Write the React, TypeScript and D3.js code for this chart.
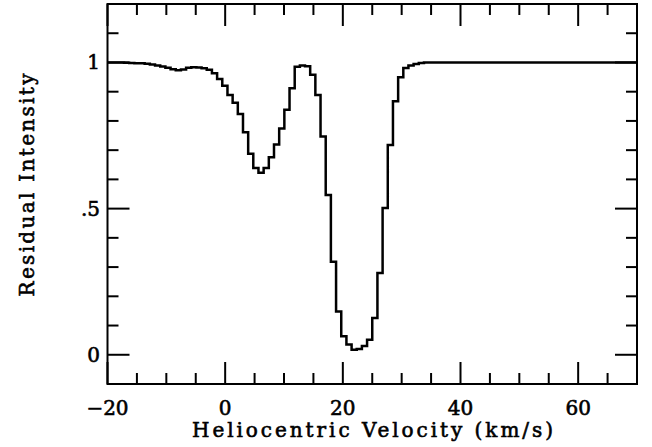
import React from 'react';
import * as d3 from 'd3';

const velocity = [
  -20.0, -17.19, -16.31, -15.43, -14.55, -13.68, -12.8, -11.92, -11.04, -10.16,
  -9.28, -8.4, -7.52, -6.64, -5.76, -4.89, -4.01, -3.13, -2.25, -1.37,
  -0.49, 0.39, 1.27, 2.15, 3.03, 3.91, 4.78, 5.66, 6.54, 7.42,
  8.3, 9.18, 10.06, 10.94, 11.82, 12.7, 13.57, 14.45, 15.33, 16.21,
  17.09, 17.97, 18.85, 19.73, 20.61, 21.49, 22.36, 23.24, 24.12, 25.0,
  25.88, 26.76, 27.64, 28.52, 29.4, 30.28, 31.15, 32.03, 32.91, 33.79, 70.0,
];
const intensity = [
  1.0, 0.999, 0.998, 0.997, 0.997, 0.996, 0.993, 0.99, 0.986, 0.982,
  0.977, 0.973, 0.976, 0.982, 0.984, 0.983, 0.98, 0.975, 0.963, 0.943,
  0.92, 0.889, 0.862, 0.824, 0.761, 0.688, 0.639, 0.623, 0.639, 0.676,
  0.719, 0.774, 0.838, 0.912, 0.985, 0.99, 0.987, 0.958, 0.889, 0.747,
  0.547, 0.318, 0.148, 0.063, 0.035, 0.017, 0.02, 0.03, 0.051, 0.126,
  0.28, 0.502, 0.718, 0.867, 0.949, 0.981, 0.99, 0.995, 0.998, 1.0, 1.0,
];

const xMajorTicks = [-20, 0, 20, 40, 60];
const xTickLabels = ['\u221220', '0', '20', '40', '60'];
const yMajorTicks = [0, 0.5, 1];
const yTickLabels = ['0', '.5', '1'];
const xTitle = 'Heliocentric Velocity (km/s)';
const yTitle = 'Residual Intensity';

const W = 652;
const H = 447;
const left = 107.5;
const right = 637;
const top = 4;
const bottom = 384;

export default function App() {
  const x = d3.scaleLinear().domain([-20, 70]).range([left, right]);
  const y = d3.scaleLinear().domain([-0.1, 1.2]).range([bottom, top]);

  const data = velocity.map((v, i) => [v, intensity[i]] as [number, number]);
  const line = d3
    .line<[number, number]>()
    .x((d) => x(d[0]))
    .y((d) => y(d[1]))
    .curve(d3.curveStepAfter);

  const xMinor = d3.range(-15, 70, 5).filter((v) => !xMajorTicks.includes(v));
  const yMinor = d3.range(0, 12, 1).map((v) => v / 10).filter((v) => !yMajorTicks.some((m) => Math.abs(m - v) < 1e-9));

  const majorLen = 22;
  const minorLen = 11;
  const font = '"DejaVu Serif", serif';

  return (
    <svg width={W} height={H} style={{ position: 'absolute', left: 0, top: 0, background: '#fff' }}>
      <defs>
        <clipPath id="plotclip">
          <rect x={left} y={top} width={right - left} height={bottom - top} />
        </clipPath>
      </defs>
      <g stroke="#000" strokeWidth={2} fill="none">
        {xMajorTicks.map((v) => (
          <g key={'xm' + v}>
            <line x1={x(v)} x2={x(v)} y1={bottom} y2={bottom - majorLen} />
            <line x1={x(v)} x2={x(v)} y1={top} y2={top + majorLen} />
          </g>
        ))}
        {xMinor.map((v) => (
          <g key={'xn' + v}>
            <line x1={x(v)} x2={x(v)} y1={bottom} y2={bottom - minorLen} />
            <line x1={x(v)} x2={x(v)} y1={top} y2={top + minorLen} />
          </g>
        ))}
        {yMajorTicks.map((v) => (
          <g key={'ym' + v}>
            <line x1={left} x2={left + majorLen} y1={y(v)} y2={y(v)} />
            <line x1={right} x2={right - majorLen} y1={y(v)} y2={y(v)} />
          </g>
        ))}
        {yMinor.map((v) => (
          <g key={'yn' + v}>
            <line x1={left} x2={left + minorLen} y1={y(v)} y2={y(v)} />
            <line x1={right} x2={right - minorLen} y1={y(v)} y2={y(v)} />
          </g>
        ))}
        <rect x={left} y={top} width={right - left} height={bottom - top} />
      </g>
      <path
        d={line(data) || ''}
        fill="none"
        stroke="#000"
        strokeWidth={2.5}
        strokeLinejoin="miter"
        clipPath="url(#plotclip)"
      />
      <g fontFamily={font} fontSize={20} fill="#000" stroke="#000" strokeWidth={0.6}>
        {xMajorTicks.map((v, i) => (
          <text key={'xl' + v} x={x(v)} y={415} textAnchor="middle">
            {xTickLabels[i]}
          </text>
        ))}
        {yMajorTicks.map((v, i) => (
          <text key={'yl' + v} x={100} y={y(v) + 7} textAnchor="end">
            {yTickLabels[i]}
          </text>
        ))}
        <text x={372.5} y={437} textAnchor="middle" textLength={361} lengthAdjust="spacing">
          {xTitle}
        </text>
        <text
          transform={`translate(34,185) rotate(-90)`}
          textAnchor="middle"
          textLength={223}
          lengthAdjust="spacing"
        >
          {yTitle}
        </text>
      </g>
    </svg>
  );
}
